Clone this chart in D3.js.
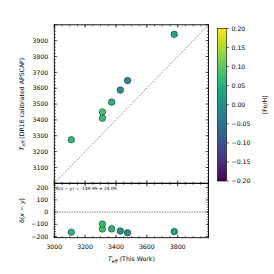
<!DOCTYPE html>
<html><head><meta charset="utf-8">
<script src="https://cdn.jsdelivr.net/npm/d3@7"></script>
<style>body{margin:0;background:#fff}svg{display:block;font-family:"DejaVu Sans",sans-serif}</style>
</head><body><svg id="c" width="274" height="274"></svg>
<script>
// Data
const teffThisWork = [3110, 3312, 3312, 3372, 3428, 3475, 3778];
const teffAspcap   = [3275, 3450, 3410, 3512, 3588, 3648, 3940];
const deltaXY      = [-165, -138, -98, -138, -155, -170, -160];
const feh          = [0.06, 0.08, 0.07, 0.06, 0.00, -0.01, 0.03];
const xTicks = [3000, 3200, 3400, 3600, 3800];
const yTicksTop = [3100, 3200, 3300, 3400, 3500, 3600, 3700, 3800, 3900];
const yTicksBot = [200, 100, 0, -100, -200];
const cbTicks = [0.20, 0.15, 0.10, 0.05, 0.00, -0.05, -0.10, -0.15, -0.20];
const annotation = "-149.99 \u00b1 24.09";

const svg = d3.select("#c");
const L = 54.3, R = 208.5, T = 24.8, M = 183.3, B = 237.7;
const fs = 6.2;
const fmt = v => (v < 0 ? "\u2212" : "") + Math.abs(v);

const x = d3.scaleLinear().domain([3000, 4000]).range([L, R]);
const yTop = d3.scaleLinear().domain([3000, 4000]).range([M, T]);
const yBot = d3.scaleLinear().domain([-210, 236]).range([B, M]);
const color = d3.scaleSequential(d3.interpolateViridis).domain([-0.2, 0.2]);

function ticksIn(g, scale, vals, orient, len) {
  vals.forEach(v => {
    const p = scale(v);
    let l;
    if (orient === "bottom") l = [p, 0, p, -len];
    if (orient === "top") l = [p, 0, p, len];
    if (orient === "left") l = [0, p, len, p];
    if (orient === "right") l = [0, p, -len, p];
    g.append("line").attr("x1", l[0]).attr("y1", l[1]).attr("x2", l[2]).attr("y2", l[3])
      .attr("stroke", "#000").attr("stroke-width", 0.6);
  });
}
function range(a, b, s) { const r = []; for (let v = a; v <= b + 1e-9; v += s) r.push(v); return r; }

const xMaj = d3.range(3000, 4001, 200), xMin = d3.range(3000, 4001, 50);

// Top panel
const gt = svg.append("g");
gt.append("line").attr("x1", x(3000)).attr("y1", yTop(3000)).attr("x2", x(4000)).attr("y2", yTop(4000))
  .attr("stroke", "#555").attr("stroke-width", 0.6).attr("stroke-dasharray", "2,1.2");
[["bottom", M], ["top", T]].forEach(([o, yy]) => {
  const g = svg.append("g").attr("transform", `translate(0,${yy})`);
  ticksIn(g, x, xMaj, o, 3); ticksIn(g, x, xMin, o, 1.6);
});
const yMajT = d3.range(3000, 4001, 100), yMinT = d3.range(3000, 4001, 20);
[["left", L], ["right", R]].forEach(([o, xx]) => {
  const g = svg.append("g").attr("transform", `translate(${xx},0)`);
  ticksIn(g, yTop, yMajT, o, 3); ticksIn(g, yTop, yMinT, o, 1.6);
});
svg.append("g").selectAll("circle").data(teffThisWork).join("circle")
  .attr("cx", d => x(d)).attr("cy", (d, i) => yTop(teffAspcap[i])).attr("r", 3.3)
  .attr("fill", (d, i) => color(feh[i])).attr("stroke", "#222").attr("stroke-width", 0.5);
svg.append("g").selectAll("text").data(yTicksTop).join("text")
  .attr("x", L - 6).attr("y", d => yTop(d)).attr("dy", "0.35em").attr("text-anchor", "end")
  .attr("font-size", fs).text(d => d);
svg.append("rect").attr("x", L).attr("y", T).attr("width", R - L).attr("height", M - T)
  .attr("fill", "none").attr("stroke", "#000").attr("stroke-width", 0.9);

// Bottom panel
svg.append("line").attr("x1", L).attr("x2", R).attr("y1", yBot(0)).attr("y2", yBot(0))
  .attr("stroke", "#000").attr("stroke-width", 0.5).attr("stroke-dasharray", "1.5,1");
[["bottom", B], ["top", M]].forEach(([o, yy]) => {
  const g = svg.append("g").attr("transform", `translate(0,${yy})`);
  ticksIn(g, x, xMaj, o, 3); ticksIn(g, x, xMin, o, 1.6);
});
const yMajB = d3.range(-200, 201, 100), yMinB = d3.range(-200, 236, 20);
[["left", L], ["right", R]].forEach(([o, xx]) => {
  const g = svg.append("g").attr("transform", `translate(${xx},0)`);
  ticksIn(g, yBot, yMajB, o, 3); ticksIn(g, yBot, yMinB, o, 1.6);
});
svg.append("g").selectAll("circle").data(teffThisWork).join("circle")
  .attr("cx", d => x(d)).attr("cy", (d, i) => yBot(deltaXY[i])).attr("r", 3.3)
  .attr("fill", (d, i) => color(feh[i])).attr("stroke", "#222").attr("stroke-width", 0.5);
svg.append("g").selectAll("text").data(yTicksBot).join("text")
  .attr("x", L - 6).attr("y", d => yBot(d)).attr("dy", "0.35em").attr("text-anchor", "end")
  .attr("font-size", fs).text(d => fmt(d));
svg.append("g").selectAll("text").data(xTicks).join("text")
  .attr("x", d => x(d)).attr("y", B + 11.5).attr("text-anchor", "middle")
  .attr("font-size", fs).text(d => d);
svg.append("rect").attr("x", L).attr("y", M).attr("width", R - L).attr("height", B - M)
  .attr("fill", "none").attr("stroke", "#000").attr("stroke-width", 0.9);

// annotation
const an = svg.append("text").attr("x", L + 2).attr("y", M + 7).attr("font-size", 4.4);
an.append("tspan").text("\u03b4(");
an.append("tspan").attr("font-style", "italic").text("x");
an.append("tspan").text(" \u2212 ");
an.append("tspan").attr("font-style", "italic").text("y");
an.append("tspan").text(") = " + annotation);

// Axis labels
function teff(sel) {
  sel.append("tspan").attr("font-style", "italic").text("T");
  sel.append("tspan").attr("font-style", "italic").attr("font-size", fs * 0.72).attr("dy", 1.5).text("eff");
  return sel;
}
const xl = svg.append("text").attr("x", (L + R) / 2).attr("y", 261).attr("text-anchor", "middle").attr("font-size", fs);
teff(xl); xl.append("tspan").attr("dy", -1.5).text(" (This Work)");

const yl = svg.append("text").attr("transform", `translate(23.5,${(T + M) / 2}) rotate(-90)`)
  .attr("text-anchor", "middle").attr("font-size", fs);
teff(yl); yl.append("tspan").attr("dy", -1.5).text(" (DR16 calibrated APSCAP)");

const yl2 = svg.append("text").attr("transform", `translate(23.5,${(M + B) / 2}) rotate(-90)`)
  .attr("text-anchor", "middle").attr("font-size", fs);
yl2.append("tspan").text("\u03b4(");
yl2.append("tspan").attr("font-style", "italic").text("x");
yl2.append("tspan").text(" \u2212 ");
yl2.append("tspan").attr("font-style", "italic").text("y");
yl2.append("tspan").text(")");

// Colorbar
const cbX = 217.5, cbW = 9, cbT = 28.5, cbB = 181;
const cy = d3.scaleLinear().domain([-0.2, 0.2]).range([cbB, cbT]);
const defs = svg.append("defs");
const grad = defs.append("linearGradient").attr("id", "vg").attr("x1", 0).attr("y1", 1).attr("x2", 0).attr("y2", 0);
d3.range(0, 1.0001, 0.05).forEach(t => grad.append("stop").attr("offset", t).attr("stop-color", d3.interpolateViridis(t)));
svg.append("rect").attr("x", cbX).attr("y", cbT).attr("width", cbW).attr("height", cbB - cbT).attr("fill", "url(#vg)")
  .attr("stroke", "#000").attr("stroke-width", 0.6);
svg.append("g").selectAll("line").data(cbTicks).join("line")
  .attr("x1", cbX + cbW).attr("x2", cbX + cbW + 2.5).attr("y1", d => cy(d)).attr("y2", d => cy(d))
  .attr("stroke", "#000").attr("stroke-width", 0.6);
svg.append("g").selectAll("text").data(cbTicks).join("text")
  .attr("x", cbX + cbW + 5).attr("y", d => cy(d)).attr("dy", "0.35em").attr("font-size", fs)
  .text(d => (d < 0 ? "\u2212" : "") + Math.abs(d).toFixed(2));
svg.append("text").attr("transform", `translate(267,${(cbT + cbB) / 2}) rotate(-90)`)
  .attr("text-anchor", "middle").attr("font-size", fs).text("[Fe/H]");
</script></body></html>
